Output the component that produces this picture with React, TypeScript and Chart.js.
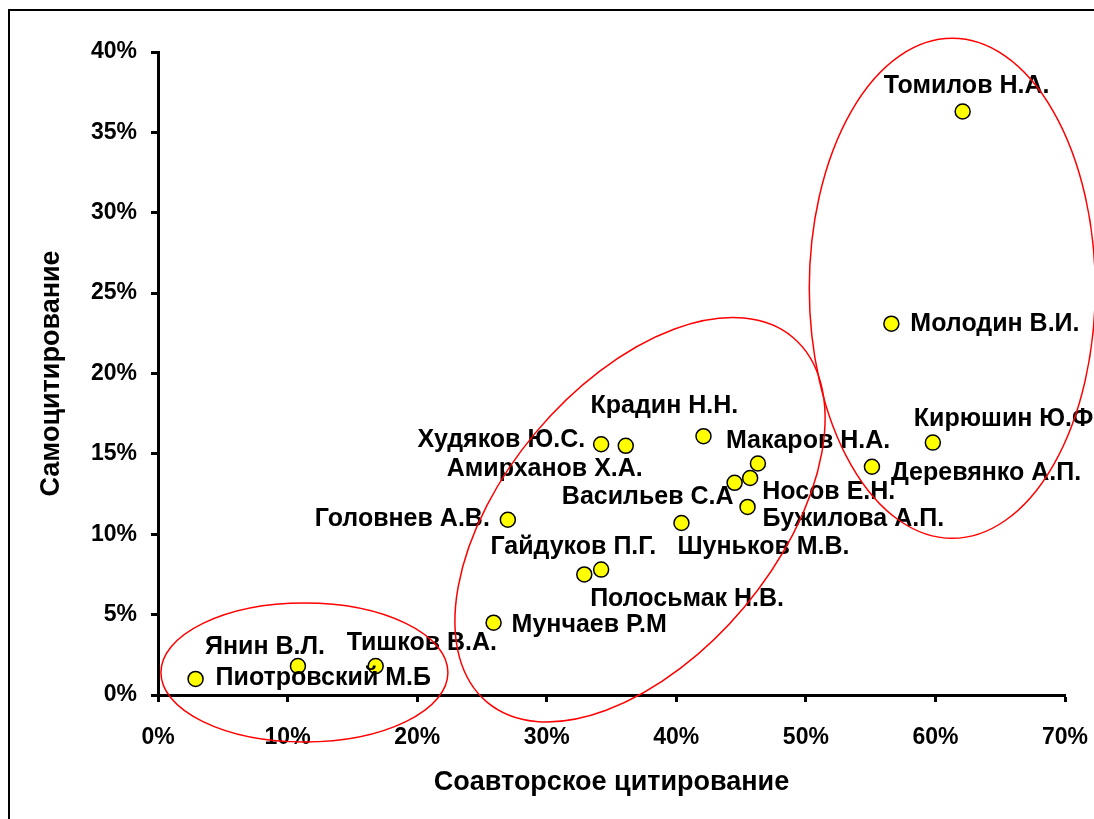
import React, { useEffect, useRef } from 'react';
import { Chart, registerables } from 'chart.js';

Chart.register(...registerables);

// ---- Data ----
const authors = [
  'Томилов Н.А.',
  'Молодин В.И.',
  'Кирюшин Ю.Ф.',
  'Деревянко А.П.',
  'Крадин Н.Н.',
  'Худяков Ю.С.',
  'Амирханов Х.А.',
  'Макаров Н.А.',
  'Носов Е.Н.',
  'Васильев С.А',
  'Бужилова А.П.',
  'Шуньков М.В.',
  'Головнев А.В.',
  'Гайдуков П.Г.',
  'Полосьмак Н.В.',
  'Мунчаев Р.М',
  'Янин В.Л.',
  'Тишков В.А.',
  'Пиотровский М.Б',
];

// Соавторское цитирование, %
const coauthorCitation = [
  62.1, 56.6, 59.8, 55.1, 42.1, 34.2, 36.1, 46.3, 45.7, 44.5,
  45.5, 40.4, 27.0, 32.9, 34.2, 25.9, 10.8, 16.8, 2.9,
];

// Самоцитирование, %
const selfCitation = [
  36.3, 23.1, 15.7, 14.2, 16.1, 15.6, 15.5, 14.4, 13.5, 13.2,
  11.7, 10.7, 10.9, 7.5, 7.8, 4.5, 1.8, 1.8, 1.0,
];

const xTickValues = [0, 10, 20, 30, 40, 50, 60, 70];
const yTickValues = [0, 5, 10, 15, 20, 25, 30, 35, 40];

const xAxisTitle = 'Соавторское цитирование';
const yAxisTitle = 'Самоцитирование';

// ---- Label placement (pixel offsets from the point, and alignment) ----
const labelPlacement: [number, number, CanvasTextAlign][] = [
  [4, -25, 'center'],
  [19, 0, 'left'],
  [-19, -24, 'left'],
  [19, 6, 'left'],
  [-113, -30, 'left'],
  [-16, -4, 'right'],
  [17, 23, 'right'],
  [-32, -22, 'left'],
  [12, 14, 'left'],
  [-1, 14, 'right'],
  [15, 12, 'left'],
  [-4, 24, 'left'],
  [-18, -1, 'right'],
  [72, -27, 'right'],
  [-11, 29, 'left'],
  [18, 2, 'left'],
  [27, -19, 'right'],
  [-29, -23, 'left'],
  [20, -1, 'left'],
];

// ---- Hand-drawn grouping ellipses: centre in data units, radii in px, rotation in degrees ----
const ellipseCenterX = [11.3, 37.2, 61.3];
const ellipseCenterY = [1.4, 10.9, 25.3];
const ellipseRadiusX = [143.5, 238, 143];
const ellipseRadiusY = [69.5, 136, 250];
const ellipseRotation = [0, -50, 0];

const FONT = '"Liberation Sans", Arial, sans-serif';

const framePlugin = {
  id: 'frame',
  beforeDraw(chart: any) {
    const ctx = chart.ctx;
    ctx.save();
    ctx.fillStyle = '#ffffff';
    ctx.fillRect(0, 0, chart.width, chart.height);
    ctx.strokeStyle = '#000000';
    ctx.lineWidth = 2;
    ctx.strokeRect(9, 10, chart.width + 50, chart.height + 50);
    ctx.restore();
  },
};

const labelsPlugin = {
  id: 'pointLabels',
  afterDatasetsDraw(chart: any) {
    const ctx = chart.ctx;
    const meta = chart.getDatasetMeta(0);
    ctx.save();
    ctx.font = `bold 25px ${FONT}`;
    ctx.fillStyle = '#000000';
    ctx.textBaseline = 'middle';
    meta.data.forEach((pt: any, i: number) => {
      const [dx, dy, align] = labelPlacement[i];
      ctx.textAlign = align;
      ctx.fillText(authors[i], pt.x + dx, pt.y + dy);
    });
    ctx.restore();
  },
};

const ellipsesPlugin = {
  id: 'groupEllipses',
  afterDraw(chart: any) {
    const ctx = chart.ctx;
    const xs = chart.scales.x;
    const ys = chart.scales.y;
    ctx.save();
    ctx.strokeStyle = '#ff0000';
    ctx.lineWidth = 1.5;
    for (let i = 0; i < ellipseCenterX.length; i++) {
      const cx = xs.getPixelForValue(ellipseCenterX[i]);
      const cy = ys.getPixelForValue(ellipseCenterY[i]);
      ctx.beginPath();
      ctx.ellipse(cx, cy, ellipseRadiusX[i], ellipseRadiusY[i], (ellipseRotation[i] * Math.PI) / 180, 0, Math.PI * 2);
      ctx.stroke();
    }
    ctx.restore();
  },
};

export default function App() {
  const canvasRef = useRef<HTMLCanvasElement | null>(null);

  useEffect(() => {
    document.body.style.margin = '0';
    document.body.style.overflow = 'hidden';
    const canvas = canvasRef.current;
    if (!canvas) return;

    const chart = new Chart(canvas, {
      type: 'scatter',
      data: {
        datasets: [
          {
            label: 'Авторы',
            data: coauthorCitation.map((x, i) => ({ x, y: selfCitation[i] })),
            backgroundColor: '#ffff00',
            borderColor: '#000000',
            borderWidth: 1.5,
            pointRadius: 7.5,
            pointHoverRadius: 7.5,
          },
        ],
      },
      options: {
        responsive: false,
        animation: false,
        events: [],
        layout: { padding: { left: 0, right: 29, top: 52, bottom: 0 } },
        plugins: {
          legend: { display: false },
          tooltip: { enabled: false },
        },
        scales: {
          x: {
            type: 'linear',
            min: 0,
            max: 70,
            afterBuildTicks: (scale: any) => {
              scale.ticks = xTickValues.map((v) => ({ value: v }));
            },
            afterFit: (scale: any) => {
              scale.height = 124;
              scale.paddingLeft = 0;
              scale.paddingRight = 0;
            },
            border: { display: true, color: '#000000', width: 3 },
            grid: {
              display: true,
              drawOnChartArea: false,
              drawTicks: true,
              tickLength: 7,
              tickColor: '#000000',
              tickWidth: 3,
            },
            ticks: {
              color: '#000000',
              font: { family: FONT, size: 23, weight: 'bold' },
              padding: 22,
              maxRotation: 0,
              callback: (v: any) => `${v}%`,
            },
            title: {
              display: true,
              text: xAxisTitle,
              color: '#000000',
              font: { family: FONT, size: 27, weight: 'bold' },
              padding: { top: 0, bottom: 20 },
            },
          },
          y: {
            type: 'linear',
            min: 0,
            max: 40,
            afterBuildTicks: (scale: any) => {
              scale.ticks = yTickValues.map((v) => ({ value: v }));
            },
            afterFit: (scale: any) => {
              scale.width = 158;
              scale.paddingTop = 0;
              scale.paddingBottom = 0;
            },
            border: { display: true, color: '#000000', width: 3 },
            grid: {
              display: true,
              drawOnChartArea: false,
              drawTicks: true,
              tickLength: 7,
              tickColor: '#000000',
              tickWidth: 3,
            },
            ticks: {
              color: '#000000',
              font: { family: FONT, size: 23, weight: 'bold' },
              padding: 14,
              callback: (v: any) => `${v}%`,
            },
            title: {
              display: true,
              text: yAxisTitle,
              color: '#000000',
              font: { family: FONT, size: 27, weight: 'bold' },
              padding: { top: 35, bottom: 0 },
            },
          },
        },
      },
      plugins: [framePlugin, labelsPlugin, ellipsesPlugin],
    });

    return () => {
      chart.destroy();
    };
  }, []);

  return (
    <div style={{ position: 'relative', width: 1094, height: 819 }}>
      <canvas ref={canvasRef} width={1094} height={819} style={{ display: 'block', width: 1094, height: 819 }} />
    </div>
  );
}
